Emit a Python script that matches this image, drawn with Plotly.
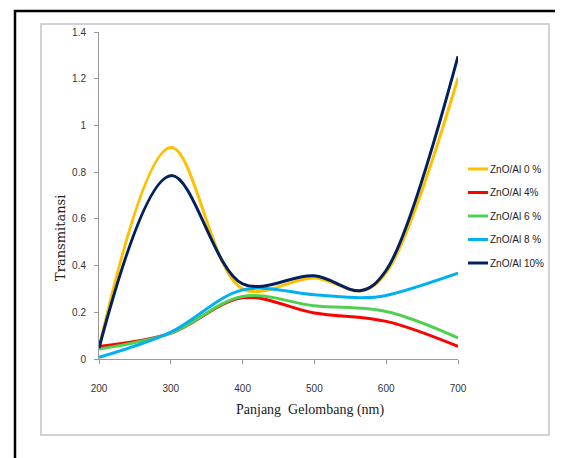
import plotly.graph_objects as go

wavelength = [200, 300, 400, 500, 600, 700]
wavelength_dip = [200, 300, 400, 500, 565, 600, 700]
series_names = ["ZnO/Al 0 %", "ZnO/Al 4%", "ZnO/Al 6 %", "ZnO/Al 8 %", "ZnO/Al 10%"]
zn0 = [0.047, 0.905, 0.300, 0.347, 0.292, 0.370, 1.203]
zn4 = [0.054, 0.111, 0.262, 0.197, 0.161, 0.054]
zn6 = [0.043, 0.111, 0.268, 0.228, 0.203, 0.090]
zn8 = [0.007, 0.115, 0.296, 0.275, 0.262, 0.272, 0.367]
zn10 = [0.047, 0.785, 0.322, 0.356, 0.293, 0.380, 1.296]
colors = ["#FFC000", "#FF0000", "#50D050", "#00B0F0", "#002060"]
x_ticks = [200, 300, 400, 500, 600, 700]
y_ticks = [0, 0.2, 0.4, 0.6, 0.8, 1, 1.2, 1.4]

OFF = 8  # page body margin
W, H = 563 - OFF, 458 - OFF
# desired plot area in page pixels: x 99..458, y 32..359
L = 99 - OFF
T = 32 - OFF
R = W - (458 - OFF)
B = H - (359 - OFF)
PW, PH = W - L - R, H - T - B


def px(x):
    return (x - OFF - L) / PW


def py(y):
    return (H - B - (y - OFF)) / PH


fig = go.Figure()
xs = [wavelength_dip, wavelength, wavelength, wavelength_dip, wavelength_dip]
for name, xv, vals, col in zip(series_names, xs, [zn0, zn4, zn6, zn8, zn10], colors):
    fig.add_trace(go.Scatter(x=xv, y=vals, name=name, mode="lines",
                             line=dict(color=col, width=3, shape="spline", smoothing=1.0),
                             showlegend=False))

sans = "Liberation Sans Narrow, Arial Narrow, Liberation Sans, sans-serif"
tickfont = dict(family=sans, size=10, color="#333333")

fig.update_xaxes(range=[200, 700], tickvals=x_ticks, ticks="outside", ticklen=4,
                 tickcolor="#999999", showline=True, linecolor="#999999", linewidth=1,
                 showgrid=False, zeroline=False, tickfont=tickfont, ticklabelstandoff=16)
fig.update_yaxes(range=[0, 1.4], tickvals=y_ticks, ticks="outside", ticklen=4,
                 tickcolor="#999999", showline=True, linecolor="#999999", linewidth=1,
                 showgrid=False, zeroline=False, tickfont=tickfont, ticklabelstandoff=6)

shapes = [
    dict(type="rect", xref="paper", yref="paper", x0=px(15), x1=px(580), y0=py(475), y1=py(11),
         line=dict(color="black", width=2.5), fillcolor="rgba(0,0,0,0)", layer="below"),
    dict(type="rect", xref="paper", yref="paper", x0=px(41), x1=px(549), y0=py(435), y1=py(24),
         line=dict(color="#C4C4C4", width=1.5), fillcolor="rgba(0,0,0,0)", layer="below"),
]
annotations = [
    dict(text="Panjang  Gelombang (nm)", xref="paper", yref="paper", x=px(310), y=py(410),
         xanchor="center", yanchor="middle", showarrow=False,
         font=dict(family="Liberation Serif, DejaVu Serif, serif", size=14, color="#222222")),
    dict(text="Transmitansi", xref="paper", yref="paper", x=px(60), y=py(238), textangle=-90,
         xanchor="center", yanchor="middle", showarrow=False,
         font=dict(family="DejaVu Serif, Liberation Serif, serif", size=13, color="#222222")),
]
for i, (name, col) in enumerate(zip(series_names, colors)):
    yy = 169 + 23.5 * i
    shapes.append(dict(type="line", xref="paper", yref="paper", x0=px(468), x1=px(488),
                       y0=py(yy), y1=py(yy), line=dict(color=col, width=3)))
    annotations.append(dict(text=name, xref="paper", yref="paper", x=px(488), y=py(yy),
                            xanchor="left", yanchor="middle", showarrow=False,
                            font=dict(family=sans, size=10, color="#222222")))

fig.update_layout(width=W, height=H, margin=dict(l=L, r=R, t=T, b=B),
                  paper_bgcolor="white", plot_bgcolor="white",
                  shapes=shapes, annotations=annotations, showlegend=False)

fig.write_html("out.html")
